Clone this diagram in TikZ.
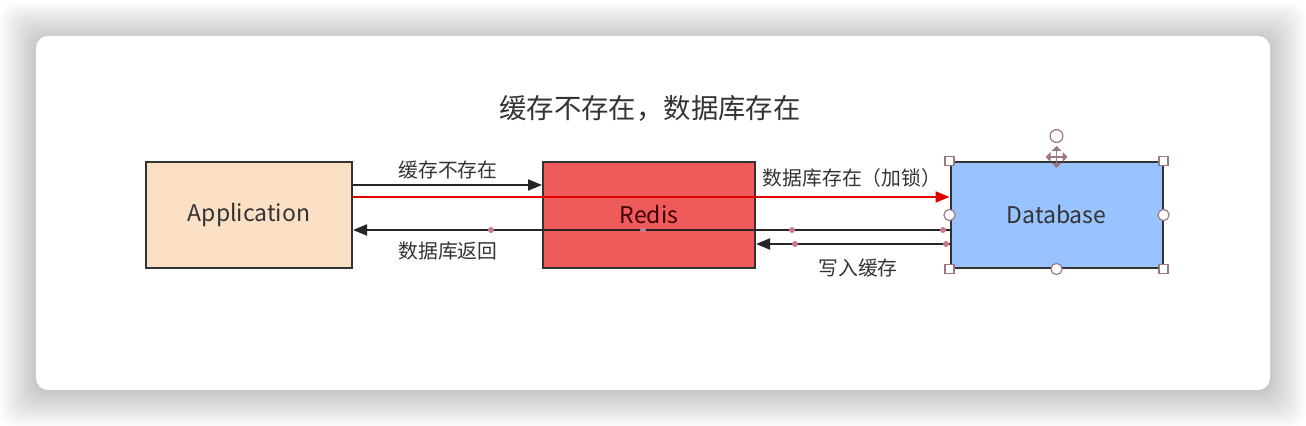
\documentclass[tikz,border=0pt]{standalone}
\usepackage{fontspec}
\setmainfont{Noto Sans CJK SC}
\usetikzlibrary{arrows.meta}
\definecolor{appfill}{HTML}{FCE0C6}
\definecolor{redisfill}{HTML}{EF5A5B}
\definecolor{dbfill}{HTML}{99C3FF}
\definecolor{boxline}{HTML}{333333}
\definecolor{arrowred}{HTML}{E00000}
\definecolor{dotpink}{HTML}{C97A92}
\definecolor{handlecol}{HTML}{9A7A80}
\definecolor{txtgray}{HTML}{333333}
\tikzset{
  handle/.style={draw=handlecol,fill=white,line width=0.6pt},
  lbl/.style={text=txtgray,font=\fontsize{9.9}{12}\selectfont,inner sep=1pt}
}
\begin{document}
\begin{tikzpicture}[x=0.5pt,y=-0.5pt]
        \useasboundingbox (0,0) rectangle (1306,426);
        \fill[white] (0,0) rectangle (1306,426);
        \foreach \i in {1,...,18}
          \fill[black,opacity=0.011,rounded corners=8pt] (36-2*\i,36-2*\i+2) rectangle (1270+2*\i,390+2*\i+2);
        \fill[white,rounded corners=6pt] (36,36) rectangle (1270,390);

        \node[text=txtgray,font=\fontsize{13.7}{16}\selectfont] (title) at (650,108) {缓存不存在，数据库存在};

        \begin{scope}[every node/.style={draw=boxline,line width=1pt,minimum width=106pt,minimum height=53pt,text=txtgray,font=\fontsize{11.5}{14}\selectfont}]
          \node[fill=appfill,minimum width=103pt] (app) at (249,215)  {Application};
          \node[fill=redisfill,text=black!75!red] (redis) at (649,215)  {Redis};
          \node[fill=dbfill]    (db)    at (1056.5,215) {Database};
        \end{scope}

        \begin{scope}[every edge/.style={draw=black!85,line width=1pt,-{Triangle[length=7pt,width=5.5pt]}}]
          \path ([yshift=15pt]app.east)    edge ([yshift=15pt]redis.west);
          \path ([yshift=9pt]app.east)     edge[draw=arrowred] ([yshift=9pt]db.west);
          \path ([yshift=-7.5pt]db.west)   edge ([yshift=-7.5pt]app.east);
          \path ([yshift=-14.5pt]db.west)  edge ([yshift=-14.5pt]redis.east);
        \end{scope}

        \foreach \x in {491,643,792,943}
          \fill[dotpink] (\x,230) circle (1.5pt);
        \foreach \x in {795,946}
          \fill[dotpink] (\x,244) circle (1.5pt);

        \node[lbl] (lblmiss)  at (448,170) {缓存不存在};
        \node[lbl] (lbllock)  at (852,178) {数据库存在（加锁）};
        \node[lbl] (lblback)  at (448,251) {数据库返回};
        \node[lbl] (lblwrite) at (858,268) {写入缓存};

        \foreach \a in {north west,north east,south west,south east}
          \draw[handle] (db.\a) ++(-4.5,-4.5) rectangle ++(9,9);
        \foreach \a in {west,east,south}
          \draw[handle] (db.\a) circle (2.8pt);
        \draw[handle] (db.north) ++(0,-25) circle (3.2pt);
        \draw[handlecol,line width=0.6pt,{Triangle[length=2.5pt]}-{Triangle[length=2.5pt]}] (db.north) ++(-11,-4) -- ++(22,0);
        \draw[handlecol,line width=0.6pt,{Triangle[length=2.5pt]}-{Triangle[length=2.5pt]}] (db.north) ++(0,-15) -- ++(0,22);

      \end{tikzpicture}
\end{document}
